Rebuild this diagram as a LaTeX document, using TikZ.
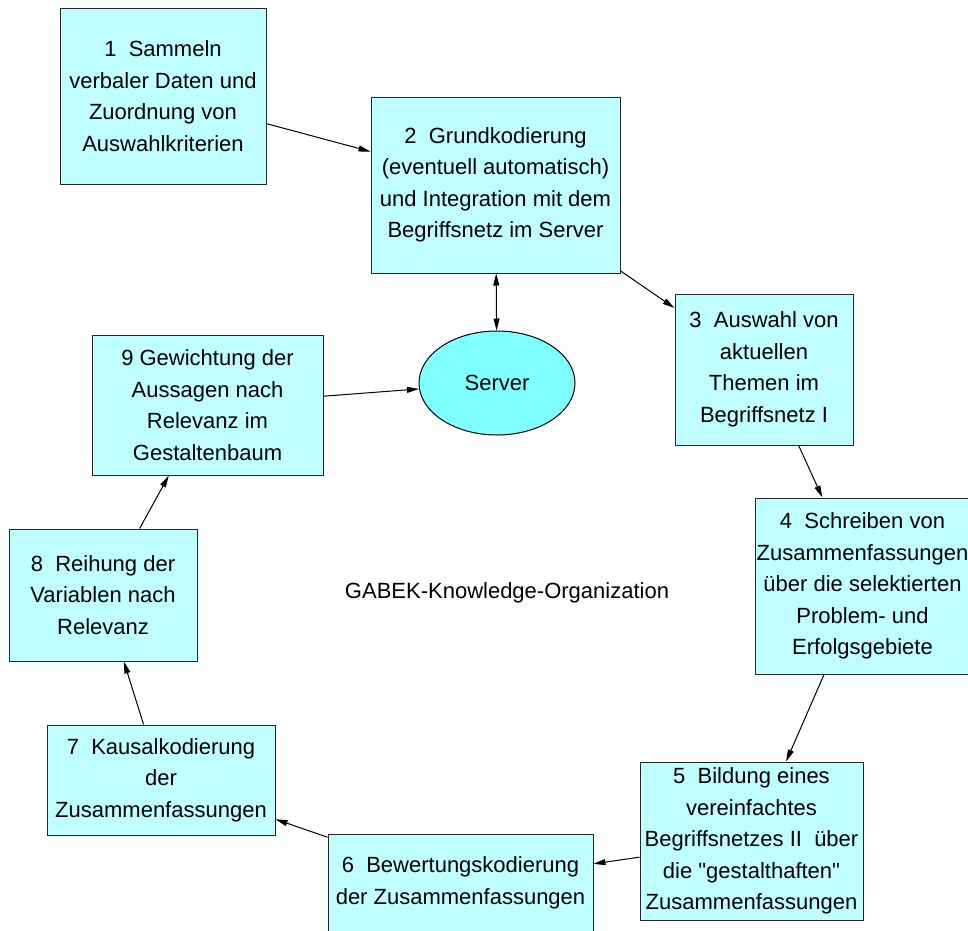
\documentclass[tikz,border=0pt]{standalone}
\usepackage{fontspec}
\setmainfont{Liberation Sans}[Ligatures=TeXOff]
\usepackage{tikz}
\usetikzlibrary{arrows.meta}
\usetikzlibrary{shapes.geometric}

\definecolor{taskfill}{RGB}{192,255,255}
\definecolor{serverfill}{RGB}{128,255,255}

\begin{document}
\begin{tikzpicture}[
		x=1pt,y=-1pt,
		->,
		>={Triangle[length=12pt,width=6pt]},
		line width=1pt,
		main node/.style={font=\fontsize{22}{31.5}\selectfont,align=center,inner sep=0pt}
		,
		task node/.style={
			main node,
			rectangle,
			draw=black!85,
			fill=taskfill
		},
		server node/.style={
			main node,
			ellipse,
			draw,
			fill=serverfill,
			minimum width=156pt,
			minimum height=104pt
		}
		]
		\useasboundingbox (0,0) rectangle (968,930);
		\node[task node,minimum width=206pt,minimum height=176pt] (n1) at (163,96) {1\ \ Sammeln\\verbaler Daten und\\Zuordnung von\\Auswahlkriterien};
		\node[task node,minimum width=249pt,minimum height=176pt] (n2) at (495.5,185) {2\ \ Grundkodierung\\(eventuell automatisch)\\und Integration mit dem\\Begriffsnetz im Server};
		\node[task node,minimum width=178pt,minimum height=151pt] (n3) at (764,369.5) {3\ \ Auswahl von\\aktuellen\\Themen im\\Begriffsnetz I};
		\node[task node,minimum width=215pt,minimum height=176pt] (n4) at (862.5,586) {4\ \ Schreiben von\\Zusammenfassungen\\über die selektierten\\Problem- und\\Erfolgsgebiete};
		\node[task node,minimum width=223pt,minimum height=158pt] (n5) at (751.5,841) {5\ \ Bildung eines\\vereinfachtes\\Begriffsnetzes II\ \ über\\die "gestalthaften"\\Zusammenfassungen};
		\node[task node,minimum width=265pt,minimum height=98pt] (n6) at (460.5,883) {6\ \ Bewertungskodierung\\der Zusammenfassungen};
		\node[task node,minimum width=228pt,minimum height=110pt] (n7) at (161,780) {7\ \ Kausalkodierung\\der\\Zusammenfassungen};
		\node[task node,minimum width=188pt,minimum height=132pt] (n8) at (103,595) {8\ \ Reihung der\\Variablen nach\\Relevanz};
		\node[task node,minimum width=231pt,minimum height=140pt] (n9) at (207.5,405) {9 Gewichtung der\\Aussagen nach\\Relevanz im\\Gestaltenbaum};
		\node[server node] (srv) at (497,383) {Server};
		\node[main node] (title) at (507,593) {GABEK-Knowledge-Organization};
		
		\path
		(n1) edge (n2)
		(n2) edge[<->] (srv)
		(n2) edge (n3)
		(n3) edge (n4)
		(n4) edge (n5)
		(n5) edge (n6)
		(n6) edge (n7)
		(n7) edge (n8)
		(n8) edge (n9)
		(n9) edge (srv);
	\end{tikzpicture}
\end{document}
